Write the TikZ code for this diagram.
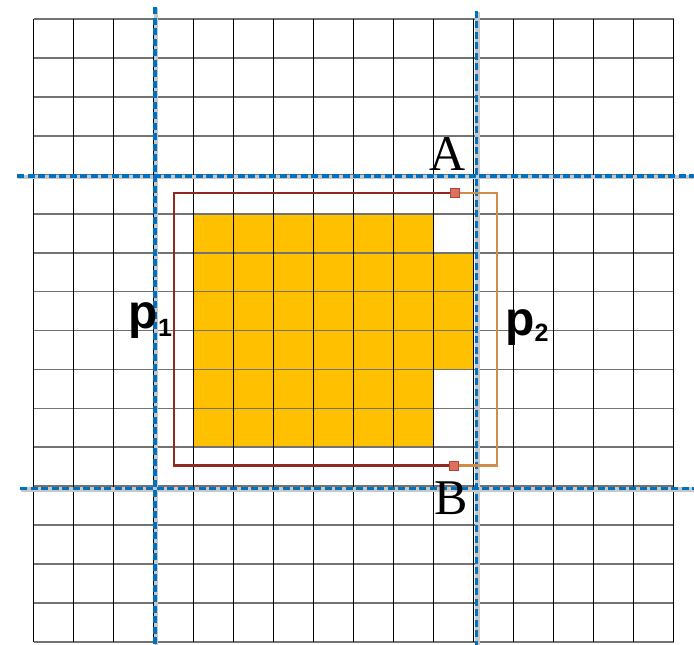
\documentclass[tikz,border=0pt]{standalone}
\usepackage{fontspec}
\setmainfont{Liberation Serif}
\newfontfamily\labsans{Liberation Sans}
\definecolor{gold}{HTML}{FFC000}
\definecolor{dashblue}{HTML}{0070C0}
\definecolor{pone}{HTML}{8E2A22}
\definecolor{ptwo}{HTML}{CF8D45}
\definecolor{mark}{HTML}{E0705E}
\definecolor{markedge}{HTML}{B04838}
\tikzset{
  vgrid/.style={black, line width=1.1pt},
  hgrid/.style={gray!90!black, line width=1.8pt},
  fillcell/.style={fill=gold, draw=none},
  bluedash/.style={dashblue, line width=3.3pt, dash pattern=on 7pt off 3.5pt},
  blueshadow/.style={black!22, line width=4.5pt},
  ponepath/.style={pone, line width=2.2pt},
  ptwopath/.style={ptwo, line width=2.2pt},
  marker/.style={draw=markedge, fill=mark, line width=0.7pt, minimum size=9pt, inner sep=0pt, rectangle},
  serlab/.style={font=\fontsize{50}{50}\selectfont, inner sep=0pt},
  plab/.style={inner sep=0pt, anchor=base west}
}
\begin{document}
\begin{tikzpicture}[x=1pt, y=-1pt]
\useasboundingbox (0,0) rectangle (694,645);
\def\gx#1{33.5+40*#1}
\def\gy#1{19+38.94*#1}
% orange cells
\fill[fillcell] ({\gx{4}},{\gy{5}}) rectangle ({\gx{10}},{\gy{11}});
\fill[fillcell] ({\gx{10}},{\gy{6}}) rectangle ({\gx{11}},{\gy{9}});
% grid
\foreach \j in {0,...,16} {
  \draw[hgrid] ({\gx{0}},{\gy{\j}}) -- ({\gx{16}},{\gy{\j}});
}
\foreach \i in {0,...,16} {
  \draw[vgrid] ({\gx{\i}},{\gy{0}}) -- ({\gx{\i}},{\gy{16}});
}
% blue dashed lines with shadow
\draw[blueshadow] (156,8) -- (156,645);
\draw[blueshadow] (477.5,11.5) -- (477.5,645);
\draw[blueshadow] (18,177) -- (694,177);
\draw[blueshadow] (21,489.3) -- (694,489.3);
\draw[bluedash] (155,7) -- (155,645);
\draw[bluedash] (476.5,10.5) -- (476.5,645);
\draw[bluedash] (17,176) -- (694,176);
\draw[bluedash] (20,488.3) -- (694,488.3);
% markers (placed first so the paths can refer to them)
\node[marker] (mA) at (455,193) {};
\node[marker] (mB) at (454,465.5) {};
% paths
\draw[ponepath] (mA.west) -- ++(-276.5,0) |- (mB.west);
\draw[ptwopath] (mA.east) -- ++(37.5,0) |- (mB.east);
\node[marker] at (mA) {};
\node[marker] at (mB) {};
% labels
\node[serlab] (labA) at (448,154) {A};
\node[serlab] (labB) at (451,498) {B};
\node[plab] (labP1) at (128.5,328.5) {\labsans\bfseries\fontsize{48}{48}\selectfont p\raisebox{-8pt}{\fontsize{25}{25}\selectfont 1}};
\node[plab] (labP2) at (505,335) {\labsans\bfseries\fontsize{48}{48}\selectfont p\raisebox{-6pt}{\fontsize{25}{25}\selectfont 2}};
\end{tikzpicture}
\end{document}
